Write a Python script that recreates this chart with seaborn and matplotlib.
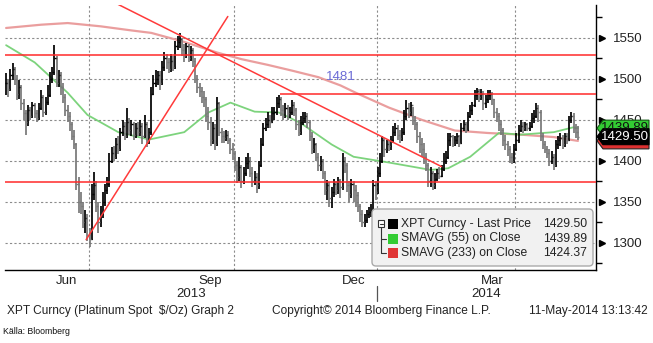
import numpy as np
import pandas as pd
import matplotlib
matplotlib.use("Agg")
import matplotlib.pyplot as plt
import matplotlib.transforms as mtrans
from matplotlib.patches import FancyBboxPatch, Polygon, Rectangle
from matplotlib.lines import Line2D
import seaborn as sns

# ---------------- data ----------------
close = [
    1495, 1488, 1505, 1512, 1500, 1482, 1490, 1470, 1458, 1448,
    1462, 1455, 1468, 1458, 1452, 1465, 1478, 1460, 1472, 1480,
    1500, 1508, 1525, 1495, 1505, 1490, 1478, 1462, 1455, 1445,
    1430, 1420, 1372, 1350, 1345, 1325, 1330, 1310, 1305, 1360,
    1370, 1345, 1325, 1335, 1350, 1365, 1372, 1400, 1410, 1405,
    1420, 1415, 1435, 1442, 1430, 1448, 1438, 1445, 1432, 1440,
    1435, 1442, 1430, 1445, 1425, 1435, 1482, 1495, 1500, 1505,
    1495, 1515, 1525, 1520, 1512, 1522, 1515, 1540, 1545, 1548,
    1535, 1528, 1540, 1525, 1535, 1522, 1500, 1490, 1485, 1478,
    1475, 1455, 1448, 1425, 1440, 1420, 1470, 1435, 1430, 1428,
    1432, 1425, 1415, 1410, 1395, 1380, 1392, 1375, 1385, 1398,
    1400, 1385, 1375, 1380, 1370, 1395, 1420, 1440, 1445, 1450,
    1448, 1458, 1460, 1470, 1475, 1462, 1455, 1465, 1458, 1460,
    1468, 1462, 1445, 1435, 1448, 1452, 1455, 1448, 1430, 1415,
    1420, 1405, 1395, 1400, 1385, 1365, 1370, 1355, 1362, 1372,
    1365, 1375, 1368, 1400, 1395, 1370, 1360, 1372, 1365, 1358,
    1345, 1335, 1325, 1328, 1335, 1338, 1340, 1370, 1362, 1385,
    1400, 1425, 1415, 1420, 1418, 1425, 1435, 1440, 1432, 1428,
    1435, 1455, 1465, 1460, 1468, 1450, 1445, 1430, 1420, 1415,
    1405, 1395, 1375, 1385, 1370, 1378, 1385, 1382, 1390, 1400,
    1405, 1425, 1430, 1420, 1425, 1430, 1422, 1440, 1445, 1438,
    1455, 1462, 1468, 1480, 1485, 1478, 1482, 1470, 1475, 1480,
    1482, 1475, 1460, 1455, 1445, 1438, 1425, 1420, 1415, 1405,
    1400, 1415, 1425, 1438, 1442, 1440, 1445, 1440, 1442, 1452,
    1455, 1465, 1460, 1430, 1420, 1415, 1410, 1400, 1405, 1395,
    1420, 1425, 1428, 1420, 1430, 1425, 1450, 1455, 1440, 1435, 1429.5,
]
high = [
    1507, 1500, 1512, 1519, 1515, 1505, 1498, 1493, 1475, 1462,
    1468, 1466, 1472, 1470, 1462, 1470, 1487, 1480, 1478, 1492,
    1508, 1515, 1541, 1528, 1511, 1508, 1495, 1482, 1468, 1460,
    1448, 1438, 1422, 1380, 1362, 1350, 1340, 1335, 1318, 1372,
    1387, 1375, 1350, 1345, 1362, 1372, 1380, 1410, 1417, 1418,
    1428, 1430, 1440, 1450, 1448, 1465, 1452, 1450, 1448, 1446,
    1448, 1450, 1446, 1456, 1448, 1440, 1490, 1505, 1511, 1510,
    1510, 1522, 1533, 1530, 1525, 1530, 1528, 1546, 1552, 1556,
    1550, 1542, 1544, 1542, 1540, 1538, 1525, 1505, 1495, 1490,
    1485, 1478, 1466, 1454, 1448, 1445, 1478, 1472, 1440, 1436,
    1438, 1436, 1428, 1422, 1412, 1400, 1405, 1395, 1392, 1405,
    1409, 1405, 1393, 1388, 1385, 1400, 1428, 1446, 1452, 1459,
    1456, 1466, 1466, 1478, 1480, 1478, 1468, 1470, 1468, 1466,
    1474, 1472, 1465, 1450, 1455, 1459, 1459, 1458, 1450, 1435,
    1428, 1422, 1410, 1406, 1402, 1388, 1377, 1374, 1368, 1378,
    1376, 1380, 1378, 1410, 1405, 1398, 1376, 1378, 1376, 1370,
    1362, 1348, 1340, 1335, 1340, 1344, 1348, 1377, 1375, 1392,
    1410, 1430, 1428, 1426, 1425, 1430, 1442, 1446, 1444, 1438,
    1440, 1462, 1474, 1470, 1472, 1466, 1455, 1448, 1435, 1428,
    1422, 1410, 1397, 1392, 1388, 1385, 1390, 1392, 1395, 1409,
    1412, 1434, 1434, 1432, 1430, 1434, 1432, 1446, 1450, 1448,
    1460, 1468, 1472, 1486, 1489, 1488, 1488, 1485, 1480, 1487,
    1487, 1484, 1476, 1465, 1458, 1450, 1440, 1432, 1424, 1418,
    1410, 1420, 1434, 1444, 1450, 1448, 1448, 1446, 1448, 1458,
    1462, 1470, 1468, 1462, 1434, 1424, 1418, 1414, 1412, 1408,
    1426, 1430, 1434, 1432, 1434, 1434, 1455, 1460, 1458, 1445, 1442,
]
low = [
    1480, 1478, 1485, 1498, 1492, 1474, 1476, 1462, 1450, 1432,
    1442, 1450, 1452, 1452, 1448, 1450, 1462, 1454, 1456, 1468,
    1478, 1495, 1505, 1490, 1490, 1480, 1470, 1455, 1448, 1436,
    1425, 1414, 1365, 1336, 1335, 1318, 1312, 1302, 1295, 1304,
    1352, 1338, 1312, 1320, 1330, 1345, 1360, 1368, 1398, 1400,
    1402, 1408, 1412, 1430, 1426, 1428, 1432, 1430, 1426, 1428,
    1430, 1430, 1420, 1428, 1417, 1420, 1432, 1480, 1490, 1492,
    1487, 1492, 1510, 1512, 1507, 1508, 1510, 1512, 1535, 1538,
    1528, 1520, 1525, 1520, 1522, 1515, 1495, 1483, 1478, 1470,
    1466, 1448, 1438, 1418, 1420, 1413, 1418, 1430, 1422, 1422,
    1424, 1420, 1408, 1401, 1388, 1373, 1375, 1367, 1372, 1382,
    1390, 1380, 1368, 1370, 1361, 1366, 1392, 1418, 1436, 1440,
    1440, 1446, 1450, 1456, 1465, 1455, 1450, 1452, 1450, 1452,
    1456, 1455, 1438, 1430, 1432, 1444, 1446, 1440, 1424, 1408,
    1410, 1400, 1388, 1388, 1378, 1358, 1352, 1344, 1342, 1356,
    1358, 1360, 1355, 1365, 1385, 1362, 1350, 1355, 1350, 1344,
    1338, 1325, 1320, 1320, 1324, 1330, 1332, 1338, 1352, 1360,
    1380, 1398, 1405, 1410, 1412, 1413, 1422, 1430, 1426, 1422,
    1424, 1432, 1450, 1452, 1455, 1444, 1438, 1422, 1410, 1405,
    1396, 1388, 1368, 1368, 1364, 1366, 1375, 1378, 1380, 1388,
    1396, 1402, 1418, 1417, 1418, 1420, 1417, 1420, 1436, 1434,
    1436, 1452, 1456, 1466, 1474, 1472, 1474, 1462, 1465, 1470,
    1474, 1468, 1452, 1448, 1436, 1432, 1418, 1413, 1406, 1398,
    1396, 1398, 1412, 1422, 1435, 1434, 1436, 1436, 1437, 1440,
    1446, 1452, 1448, 1424, 1415, 1409, 1404, 1394, 1396, 1389,
    1392, 1415, 1418, 1414, 1417, 1420, 1424, 1446, 1434, 1428, 1426,
]
# moving averages, read at sampled trading-day positions
sma55_day = [0, 13, 28, 37, 51, 65, 81, 92, 102, 113, 124, 134, 148, 158, 174, 193, 201, 211, 224, 234, 249, 258, 260]
sma55_val = [1541, 1520, 1483, 1456, 1435, 1426, 1435, 1459, 1471, 1460, 1459, 1446, 1420, 1405, 1398, 1389, 1391, 1405, 1434, 1432, 1435, 1441, 1439.89]
sma233_day = [0, 16, 28, 43, 57, 66, 81, 96, 107, 119, 130, 142, 152, 159, 174, 189, 204, 219, 234, 249, 260]
sma233_val = [1562, 1566, 1568, 1564, 1559, 1556, 1545, 1532, 1524, 1517, 1510, 1502, 1492, 1483, 1465, 1450, 1437, 1434, 1432, 1429, 1424.37]
# drawn trend lines (trading-day index, price)
trend_down_day = [50, 198]
trend_down_val = [1592, 1393]
trend_up_day = [36.4, 100.8]
trend_up_val = [1304, 1576]
level_full = [1529, 1374]
level_1481 = 1481
level_1481_from = 124.5

y_ticks = [1300, 1350, 1400, 1450, 1500, 1550]
month_labels = {6: "Jun", 9: "Sep", 12: "Dec", 3: "Mar"}
legend_rows = [("XPT Curncy - Last Price", "1429.50"),
               ("SMAVG (55) on Close", "1439.89"),
               ("SMAVG (233) on Close", "1424.37")]
last_price, last_sma55, last_sma233 = 1429.50, 1439.89, 1424.37
footer_left = "XPT Curncy (Platinum Spot  $/Oz) Graph 2"
footer_mid = "Copyright\u00a9 2014 Bloomberg Finance L.P."
footer_right = "11-May-2014 13:13:42"
source_note = "K\u00e4lla: Bloomberg"

# ---------------- style ----------------
sns.set_style("white")
FONT = ["Liberation Sans", "DejaVu Sans"]
plt.rcParams["font.family"] = FONT
FS = 8.6

W, H = 653, 343
fig = plt.figure(figsize=(W / 100, H / 100), dpi=100)
ax = fig.add_axes([5 / W, 1 - 270 / H, 591 / W, 265 / H])
pix = mtrans.Affine2D().scale(1 / W, -1 / H).translate(0, 1) + fig.transFigure

n = min(len(close), len(high), len(low))
dates = pd.bdate_range("2013-05-08", "2014-05-09")
dates = dates[~dates.isin(pd.to_datetime(["2013-12-25", "2014-01-01"]))]
dates = dates[-n:]
df = pd.DataFrame({"i": np.arange(n), "close": close[:n], "high": high[:n], "low": low[:n]})
df["open"] = df["close"].shift(1).fillna(df["close"].iloc[0])
cols = np.where(df["close"] >= df["open"], "#000000", "#777777")

XL = (-0.5, 268.2)
YL = (1267, 1590)
ax.set_xlim(*XL)
ax.set_ylim(*YL)

# grid
for yv in y_ticks:
    ax.axhline(yv, color="#8c8c8c", lw=0.8, ls=(0, (2, 2)), zorder=0)
month_starts = [k for k in range(1, n) if dates[k].month != dates[k - 1].month]
for k in month_starts:
    if dates[k].month in (1, 4, 7, 10):
        ax.axvline(k - 0.5, color="#8c8c8c", lw=0.8, ls=(0, (2, 2)), zorder=0)

# moving averages
sns.lineplot(x=sma233_day, y=sma233_val, ax=ax, color="#e89494", lw=1.6, alpha=0.9,
             estimator=None, sort=False, zorder=2)
sns.lineplot(x=sma55_day, y=sma55_val, ax=ax, color="#6fcf6f", lw=1.3, alpha=0.9,
             estimator=None, sort=False, zorder=2)

# OHLC bars
ax.vlines(df["i"], df["low"], df["high"], colors=cols, lw=1.25, zorder=3)
ax.hlines(df["open"], df["i"] - 0.5, df["i"], colors=cols, lw=1.0, zorder=3)
ax.hlines(df["close"], df["i"], df["i"] + 0.5, colors=cols, lw=1.0, zorder=3)

# red levels / trend lines
for lv in level_full:
    ax.axhline(lv, color="#ff2a2a", lw=1.1, zorder=4)
ax.hlines(level_1481, level_1481_from, XL[1], color="#ff2a2a", lw=1.1, zorder=4)
ax.plot(trend_down_day, trend_down_val, color="#ff3a3a", lw=1.1, zorder=4)
ax.plot(trend_up_day, trend_up_val, color="#ff3a3a", lw=1.1, zorder=4)
ax.text(152, 1502, "1481", color="#6b6bd6", fontsize=9.5, ha="center", va="center", zorder=5)

# axes, ticks
for s in ("left", "top"):
    ax.spines[s].set_visible(False)
for s in ("right", "bottom"):
    ax.spines[s].set_color("black")
    ax.spines[s].set_linewidth(1.0)
ax.yaxis.tick_right()
ax.set_yticks(y_ticks)
ax.set_yticklabels([str(v) for v in y_ticks], fontsize=9.5, color="#222222")
ax.set_yticks([v for v in range(1275, 1590, 25) if v not in y_ticks], minor=True)
ax.tick_params(axis="y", which="major", length=0, pad=12)
ax.tick_params(axis="y", which="minor", length=4, width=1, color="black", direction="out")
ax.set_xticks([k - 0.5 for k in month_starts])
ax.set_xticklabels([])
ax.tick_params(axis="x", which="major", length=4, width=1, color="#333333", direction="out")
ax.grid(False)

ytr = mtrans.blended_transform_factory(pix, ax.transData)
ax.plot([602] * len(y_ticks), y_ticks, ls="none", marker=">", ms=5, color="black",
        transform=ytr, clip_on=False)

xtr = mtrans.blended_transform_factory(ax.transData, pix)
for idx, k in enumerate([0] + month_starts):
    m = dates[k].month
    if m in month_labels:
        e = month_starts[idx] if idx < len(month_starts) else n
        ax.text((k + e) / 2 - 0.5, 281, month_labels[m], transform=xtr, ha="center",
                va="center", fontsize=9.5, color="#222222")
jan = [k for k in month_starts if dates[k].month == 1][0]
ax.text((XL[0] + jan - 0.5) / 2, 294, "2013", transform=xtr, ha="center", va="center",
        fontsize=9.5, color="#222222")
ax.text((jan - 0.5 + XL[1]) / 2, 294, "2014", transform=xtr, ha="center", va="center",
        fontsize=9.5, color="#222222")
ax.add_line(Line2D([jan - 0.5, jan - 0.5], [286, 301], transform=xtr, color="#555555",
                   lw=0.9, clip_on=False))

# right-side price flags (the green one is partly covered, as in the original)
def flag(y, face, edge, txt, tcol):
    Y = ax.transData.transform((0, y))[1]
    Yp = H - Y  # pixel from top
    pts = [(597, Yp), (603, Yp - 8), (649, Yp - 8), (649, Yp + 8), (603, Yp + 8)]
    fig.add_artist(Polygon(pts, closed=True, transform=pix, facecolor=face, edgecolor=edge,
                           lw=0.8, zorder=5))
    if txt:
        fig.text(625 / W, 1 - Yp / H, txt, ha="center", va="center", fontsize=9.5,
                 color=tcol, zorder=6)

fig.canvas.draw()
flag(last_sma233, "#dd3030", "#222222", "", "black")
flag(last_sma55, "#33cc33", "#115511", f"{last_sma55:.2f}", "#111111")
flag(last_price, "#000000", "#000000", f"{last_price:.2f}", "white")

# legend box
fig.add_artist(FancyBboxPatch((372, 209), 221, 57, boxstyle="round,pad=0,rounding_size=4",
                              transform=pix, facecolor="#f1f1f1", edgecolor="#aaaaaa",
                              lw=1.0, zorder=7))
fig.add_artist(Rectangle((378, 220), 6, 7, transform=pix, facecolor="white",
                         edgecolor="#333333", lw=0.8, zorder=8))
fig.add_artist(Line2D([379.5, 382.5], [223.5, 223.5], transform=pix, color="#333333",
                      lw=0.8, zorder=9))
fig.add_artist(Line2D([381, 381, 386], [227, 253, 253], transform=pix, color="#333333",
                      lw=0.8, zorder=8))
fig.add_artist(Line2D([381, 386], [239, 239], transform=pix, color="#333333", lw=0.8, zorder=8))
sw_cols = ["#000000", "#33cc33", "#e03535"]
for r, ((lab, val), c) in enumerate(zip(legend_rows, sw_cols)):
    yc = 224 + r * 14.5
    fig.add_artist(Rectangle((388, yc - 5), 10, 10, transform=pix, facecolor=c,
                             edgecolor="none", zorder=8))
    fig.text(401 / W, 1 - yc / H, lab, ha="left", va="center", fontsize=8.7,
             color="#222222", zorder=9)
    fig.text(587 / W, 1 - yc / H, val, ha="right", va="center", fontsize=8.7,
             color="#222222", zorder=9)

# footer
fig.text(7 / W, 1 - 311 / H, footer_left, ha="left", va="center", fontsize=FS, color="#222222")
fig.text(272 / W, 1 - 311 / H, footer_mid, ha="left", va="center", fontsize=FS, color="#222222")
fig.text(648 / W, 1 - 311 / H, footer_right, ha="right", va="center", fontsize=FS, color="#222222")
fig.text(3 / W, 1 - 331 / H, source_note, ha="left", va="center", fontsize=6.3, color="#111111")

fig.savefig("out.png", dpi=100, facecolor="white")
